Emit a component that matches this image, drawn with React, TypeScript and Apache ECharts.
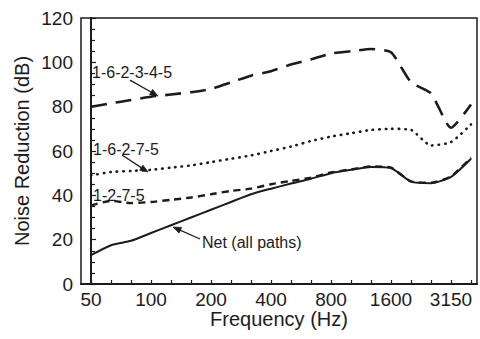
import React, { useEffect, useRef } from "react";
import * as echarts from "echarts";

// 1/3-octave band centre frequencies (Hz)
const bands = ["50","63","80","100","125","160","200","250","315","400","500","630","800","1000","1250","1600","2000","2500","3150","4000"];
const labelBands = ["50","100","200","400","800","1600","3150"];

// Noise reduction (dB) per band
const path1_6_2_3_4_5 = [80,81.5,83,84.5,85.5,86.5,88,91,94,96,99,101.3,104,105,106,104.5,91,86,70.5,81];
const path1_6_2_7_5 = [49,50.5,51,51.5,52.5,53.5,55,56.5,58,60,62,64.5,66.5,68,69.5,70,69.5,62.5,64,72];
const path1_2_7_5 = [35.5,37.5,36.5,37,38,39,40.5,42,43,45,46.5,48,50.3,51.7,53,52.5,46.3,45.7,48.5,57];
const netAll = [13,17.5,19.5,23,26.5,30,33.5,37,40.5,43,45.3,47.5,50,51.5,52.8,52.3,46.2,45.5,48.3,56.5];

const yTicks = [0, 20, 40, 60, 80, 100, 120];

// annotation anchors in data space: [bandIndex, dB]
const labels = [
  { text: "1-6-2-3-4-5", at: [0.05, 95.2] },
  { text: "1-6-2-7-5", at: [0.1, 60.9] },
  { text: "1-2-7-5", at: [0.1, 40.1] },
  { text: "Net (all paths)", at: [5.55, 18.9] },
];
const arrows = [
  { from: [1.95, 92.0], to: [3.35, 84.8] },
  { from: [1.55, 58.2], to: [2.85, 50.5] },
  { from: [5.45, 20.3], to: [4.1, 25.7] },
];

const INK = "#1c1c1c";
const FONT = "'Liberation Sans', Arial, Helvetica, sans-serif";

const toPairs = (vals: number[]) => vals.map((v, i) => [i, v]);

export default function App() {
  const ref = useRef<HTMLDivElement>(null);
  useEffect(() => {
    if (!ref.current) return;
    const chart = echarts.init(ref.current, undefined, { renderer: "svg" });
    const lineSeries = (name: string, vals: number[], width: number, dash: any, cap: any = "butt") => ({
      name,
      type: "line",
      data: toPairs(vals),
      showSymbol: false,
      symbol: "none",
      smooth: 0.2,
      lineStyle: { color: INK, width, type: dash, cap },
      z: 3,
    });
    chart.setOption({
      animation: false,
      backgroundColor: "#ffffff",
      grid: { left: 81, right: 3, top: 18, bottom: 55, show: true, borderColor: INK, borderWidth: 1.5, backgroundColor: "transparent" },
      xAxis: {
        type: "value",
        min: -0.5,
        max: 19.3,
        name: "Frequency (Hz)",
        nameLocation: "middle",
        nameGap: 25,
        nameMoveOverlap: false,
        nameTextStyle: { fontSize: 20, fontFamily: FONT, color: INK },
        axisLine: { show: true, lineStyle: { color: INK, width: 2 } },
        axisTick: { show: true, inside: true, length: 4, lineStyle: { color: INK, width: 1.2 }, customValues: bands.map((_, i) => i) },
        axisLabel: {
          show: true,
          margin: 6,
          fontSize: 19,
          fontFamily: FONT,
          color: INK,
          customValues: labelBands.map((b) => bands.indexOf(b)),
          formatter: (v: number) => bands[Math.round(v)] ?? "",
        },
        splitLine: { show: false },
      },
      yAxis: {
        type: "value",
        min: 0,
        max: 120,
        interval: 20,
        name: "Noise Reduction (dB)",
        nameLocation: "middle",
        nameGap: 49,
        nameMoveOverlap: false,
        nameTextStyle: { fontSize: 20, fontFamily: FONT, color: INK },
        axisLine: { show: true, lineStyle: { color: INK, width: 2 } },
        axisTick: { show: true, inside: true, length: 5, lineStyle: { color: INK, width: 1.2 } },
        minorTick: { show: true, splitNumber: 4, length: 4, lineStyle: { color: INK, width: 1.2 } },
        axisLabel: { margin: 8, fontSize: 19, fontFamily: FONT, color: INK, formatter: (v: number) => (yTicks.includes(v) ? String(v) : "") },
        splitLine: { show: false },
        minorSplitLine: { show: false },
      },
      series: [
        lineSeries("1-6-2-3-4-5", path1_6_2_3_4_5, 2.6, [16, 9]),
        lineSeries("1-6-2-7-5", path1_6_2_7_5, 2.6, [0.5, 6], "round"),
        lineSeries("1-2-7-5", path1_2_7_5, 2.4, [7, 5]),
        lineSeries("Net (all paths)", netAll, 2, "solid"),
      ],
    });

    const px = (p: number[]) => chart.convertToPixel({ gridIndex: 0 }, p) as number[];
    const graphic: any[] = [];
    labels.forEach((l) => {
      const [x, y] = px(l.at);
      graphic.push({
        type: "text",
        x,
        y,
        z: 10,
        style: { text: l.text, fontSize: 16, fontFamily: FONT, fill: INK, align: "left", verticalAlign: "middle" },
      });
    });
    arrows.forEach((a) => {
      const [x1, y1] = px(a.from);
      const [x2, y2] = px(a.to);
      const dx = x2 - x1, dy = y2 - y1;
      const len = Math.hypot(dx, dy);
      const ux = dx / len, uy = dy / len;
      const nx = -uy, ny = ux;
      const L = 8, W = 3;
      graphic.push({
        type: "line",
        z: 10,
        shape: { x1, y1, x2: x2 - ux * 4, y2: y2 - uy * 4 },
        style: { stroke: INK, lineWidth: 1.3 },
      });
      graphic.push({
        type: "polygon",
        z: 10,
        shape: {
          points: [
            [x2, y2],
            [x2 - ux * L + nx * W, y2 - uy * L + ny * W],
            [x2 - ux * L - nx * W, y2 - uy * L - ny * W],
          ],
        },
        style: { fill: INK, stroke: INK, lineWidth: 0.8 },
      });
    });
    chart.setOption({ graphic });

    return () => chart.dispose();
  }, []);
  return <div ref={ref} style={{ width: 480, height: 339, position: "absolute", left: 0, top: 0 }} />;
}
